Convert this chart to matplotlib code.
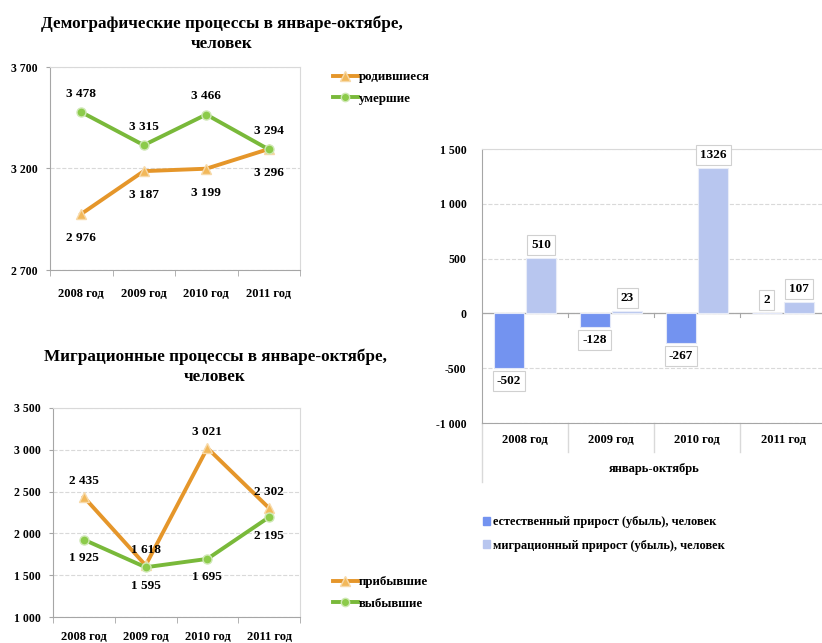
import matplotlib.pyplot as plt
from matplotlib.lines import Line2D
from matplotlib.patches import Patch
import numpy as np

plt.rcParams['font.family'] = ['Liberation Serif', 'DejaVu Serif']
plt.rcParams['font.weight'] = 'bold'

years = ['2008 год', '2009 год', '2010 год', '2011 год']

born = [2976, 3187, 3199, 3296]
died = [3478, 3315, 3466, 3294]

arrived = [2435, 1618, 3021, 2302]
departed = [1925, 1595, 1695, 2195]

natural = [-502, -128, -267, 2]
migration = [510, 23, 1326, 107]

ORANGE = '#E5962A'
ORANGE_M = '#F2B85A'
GREEN = '#79B93A'
GREEN_M = '#8CCB4A'
BLUE = '#7393F0'
LBLUE = '#B8C6EF'
GRID = '#D9D9D9'
AXC = '#A6A6A6'

W, H = 822, 643


def rect(l, t, r, b):
    return [l / W, 1 - b / H, (r - l) / W, (b - t) / H]


def fmt(v):
    return f'{v:,}'.replace(',', ' ')


def style_axes(ax, yticks, xpad):
    ax.set_xlim(-0.5, 3.5)
    ax.set_yticks(yticks)
    ax.set_yticklabels([fmt(v) for v in yticks], fontsize=8.5)
    ax.set_ylim(yticks[0], yticks[-1])
    ax.set_xticks(np.arange(4))
    ax.set_xticklabels(years, fontsize=9)
    ax.set_xticks(np.arange(-0.5, 4, 1), minor=True)
    ax.tick_params(axis='x', which='major', length=0, pad=xpad)
    ax.tick_params(axis='x', which='minor', length=4, color=AXC)
    ax.tick_params(axis='y', length=3, color=AXC, pad=6)
    for s in ['top', 'right']:
        ax.spines[s].set_color(GRID)
    for s in ['left', 'bottom']:
        ax.spines[s].set_color(AXC)
    ax.grid(axis='y', color=GRID, linestyle='--', linewidth=0.8)
    ax.set_axisbelow(True)


fig = plt.figure(figsize=(W / 100, H / 100), dpi=100)

# --- demographic line chart ---
ax1 = fig.add_axes(rect(50, 67, 300, 270))
x = np.arange(4)
ax1.plot(x, born, color=ORANGE, lw=2.8, marker='^', ms=7.5, mfc=ORANGE_M, mec='#F7D9A8', zorder=3)
ax1.plot(x, died, color=GREEN, lw=2.8, marker='o', ms=6.5, mfc=GREEN_M, mec='#CFE8B4', zorder=3)
style_axes(ax1, [2700, 3200, 3700], 13)
for i, v in enumerate(born):
    ax1.annotate(fmt(v), (i, v), xytext=(0, -13), textcoords='offset points',
                 ha='center', va='top', fontsize=9.5)
for i, v in enumerate(died):
    ax1.annotate(fmt(v), (i, v), xytext=(0, 9), textcoords='offset points',
                 ha='center', va='bottom', fontsize=9.5)
fig.text(222 / W, 1 - 34 / H, 'Демографические процессы в январе-октябре,\nчеловек',
         ha='center', va='center', fontsize=12.3, linespacing=1.35)
h1 = [Line2D([], [], color=ORANGE, lw=2.8, marker='^', ms=7, mfc=ORANGE_M, mec='#F7D9A8'),
      Line2D([], [], color=GREEN, lw=2.8, marker='o', ms=6, mfc=GREEN_M, mec='#CFE8B4')]
fig.legend(h1, ['родившиеся', 'умершие'], loc='upper left',
           bbox_to_anchor=(328 / W, 1 - 66 / H), frameon=False, fontsize=9.3,
           handlelength=1.9, handletextpad=0.1, labelspacing=0.75, borderaxespad=0)

# --- migration line chart ---
ax2 = fig.add_axes(rect(53, 408, 300, 617))
ax2.plot(x, arrived, color=ORANGE, lw=2.8, marker='^', ms=7.5, mfc=ORANGE_M, mec='#F7D9A8', zorder=3)
ax2.plot(x, departed, color=GREEN, lw=2.8, marker='o', ms=6.5, mfc=GREEN_M, mec='#CFE8B4', zorder=3)
style_axes(ax2, [1000, 1500, 2000, 2500, 3000, 3500], 10)
for i, v in enumerate(arrived):
    ax2.annotate(fmt(v), (i, v), xytext=(0, 7), textcoords='offset points',
                 ha='center', va='bottom', fontsize=9.5)
for i, v in enumerate(departed):
    ax2.annotate(fmt(v), (i, v), xytext=(0, -9), textcoords='offset points',
                 ha='center', va='top', fontsize=9.5)
fig.text(215 / W, 1 - 367 / H, 'Миграционные процессы в январе-октябре,\nчеловек',
         ha='center', va='center', fontsize=12.3, linespacing=1.35)
fig.legend(h1, ['прибывшие', 'выбывшие'], loc='upper left',
           bbox_to_anchor=(328 / W, 1 - 571 / H), frameon=False, fontsize=9.3,
           handlelength=1.9, handletextpad=0.1, labelspacing=0.75, borderaxespad=0)

# --- bar chart ---
ax3 = fig.add_axes(rect(482, 149, 826, 423))
bw = 0.35
off = 0.19
ax3.bar(x - off, natural, bw, color=BLUE, edgecolor='#E3E8F8', linewidth=0.8, zorder=3)
ax3.bar(x + off, migration, bw, color=LBLUE, edgecolor='#E8ECF8', linewidth=0.8, zorder=3)
yt = [-1000, -500, 0, 500, 1000, 1500]
ax3.set_xlim(-0.5, 3.5)
ax3.set_ylim(-1000, 1500)
ax3.set_yticks(yt)
ax3.set_yticklabels([fmt(v) for v in yt], fontsize=8.5)
ax3.tick_params(axis='y', length=0, pad=11)
ax3.set_xticks(x)
ax3.set_xticklabels(years, fontsize=9)
ax3.tick_params(axis='x', length=0, pad=8)
ax3.grid(axis='y', color=GRID, linestyle='--', linewidth=0.8)
ax3.set_axisbelow(True)
for s in ['top', 'right']:
    ax3.spines[s].set_color(GRID)
ax3.spines['left'].set_color(AXC)
ax3.spines['bottom'].set_color(AXC)
ax3.axhline(0, color=AXC, lw=0.9, zorder=2)
trans = ax3.get_xaxis_transform()
for b in [0.5, 1.5, 2.5]:
    ax3.plot([b, b], [0, -0.105], transform=trans, color=GRID, lw=1, clip_on=False)
    ax3.plot([b, b], [0.4, 0.386], transform=trans, color=AXC, lw=0.8, clip_on=False)
ax3.plot([-0.5, -0.5], [0, -0.215], transform=trans, color=GRID, lw=1, clip_on=False)
ax3.text(1.5, -0.168, 'январь-октябрь', transform=trans, ha='center', va='center', fontsize=9)

box = dict(boxstyle='square,pad=0.3', fc='white', ec='#D0D0D0', lw=0.8)
for i, v in enumerate(natural):
    if v < 0:
        ax3.annotate(str(v), (i - off, v), xytext=(0, -5), textcoords='offset points',
                     ha='center', va='top', fontsize=9.5, bbox=box, zorder=4)
    else:
        ax3.annotate(str(v), (i - off, v), xytext=(0, 5), textcoords='offset points',
                     ha='center', va='bottom', fontsize=9.5, bbox=box, zorder=4)
for i, v in enumerate(migration):
    ax3.annotate(str(v), (i + off, v), xytext=(0, 5), textcoords='offset points',
                 ha='center', va='bottom', fontsize=9.5, bbox=box, zorder=4)

h3 = [Patch(color=BLUE), Patch(color=LBLUE)]
fig.legend(h3, ['естественный прирост (убыль), человек', 'миграционный прирост (убыль), человек'],
           loc='upper left', bbox_to_anchor=(478 / W, 1 - 511 / H), frameon=False, fontsize=8.9,
           handlelength=0.6, handleheight=0.6, handletextpad=0.2, labelspacing=0.95, borderaxespad=0)

fig.savefig('out.png', dpi=100)
